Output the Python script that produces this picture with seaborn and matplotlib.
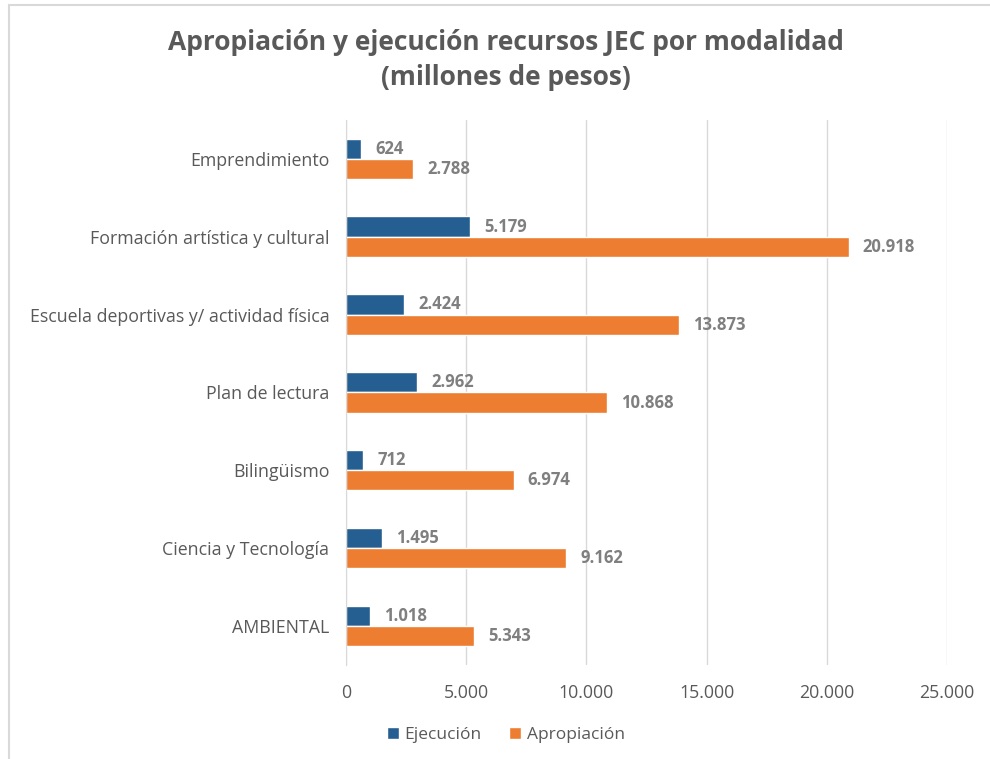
import pandas as pd
import matplotlib
matplotlib.use("Agg")
import matplotlib.pyplot as plt
import seaborn as sns
from matplotlib.lines import Line2D
from matplotlib.ticker import FuncFormatter

categorias = ["Emprendimiento", "Formación artística y cultural",
              "Escuela deportivas y/ actividad física", "Plan de lectura",
              "Bilingüismo", "Ciencia y Tecnología", "AMBIENTAL"]
ejecucion = [624, 5179, 2424, 2962, 712, 1495, 1018]
apropiacion = [2788, 20918, 13873, 10868, 6974, 9162, 5343]
series = ["Ejecución", "Apropiación"]
colores = ["#255E91", "#ED7D31"]

df = pd.DataFrame({
    "modalidad": categorias * 2,
    "serie": [series[0]] * len(categorias) + [series[1]] * len(categorias),
    "valor": ejecucion + apropiacion,
})

sns.set_style("white")
plt.rcParams["font.family"] = ["Open Sans", "DejaVu Sans"]

fig = plt.figure(figsize=(9.9, 7.59), dpi=100)
ax = fig.add_axes([0.3495, 0.124, 0.607, 0.718])

sns.barplot(data=df, y="modalidad", x="valor", hue="serie", order=categorias,
            hue_order=series, palette=colores, orient="h", width=0.52,
            saturation=1, ax=ax, legend=True)

def fmt(v):
    return f"{int(round(v)):,}".replace(",", ".")

for cont in ax.containers:
    labels = [fmt(b.get_width()) for b in cont]
    ax.bar_label(cont, labels=labels, padding=10, color="#7F7F7F",
                 fontsize=12, fontweight="bold")

ax.set_xlim(0, 25000)
ax.set_xticks(range(0, 25001, 5000))
ax.xaxis.set_major_formatter(FuncFormatter(lambda v, p: fmt(v)))
ax.grid(axis="x", color="#D9D9D9", linewidth=1)
ax.set_axisbelow(True)
for s in ["top", "right", "bottom"]:
    ax.spines[s].set_visible(False)
ax.spines["left"].set_color("#D9D9D9")
ax.tick_params(axis="both", length=0, colors="#595959", labelsize=12.8)
ax.tick_params(axis="y", pad=12)
ax.tick_params(axis="x", pad=14)
ax.set_xlabel("")
ax.set_ylabel("")

leg = ax.legend(loc="upper center", bbox_to_anchor=(0.266, -0.085), ncol=2,
                frameon=False, fontsize=12.5, handlelength=0.7,
                handleheight=0.7, handletextpad=0.3, columnspacing=1.6)
for t in leg.get_texts():
    t.set_color("#595959")

fig.suptitle("Apropiación y ejecución recursos JEC por modalidad\n(millones de pesos)",
             x=0.511, y=0.962, fontsize=19, fontweight="bold", color="#595959",
             linespacing=1.4)

fig.add_artist(Line2D([0.0095, 0.0095], [0, 0.993], transform=fig.transFigure,
                      color="#D9D9D9", linewidth=1.5))
fig.add_artist(Line2D([0.0095, 1], [0.993, 0.993], transform=fig.transFigure,
                      color="#D9D9D9", linewidth=1.5))

fig.savefig("out.png", dpi=100)
